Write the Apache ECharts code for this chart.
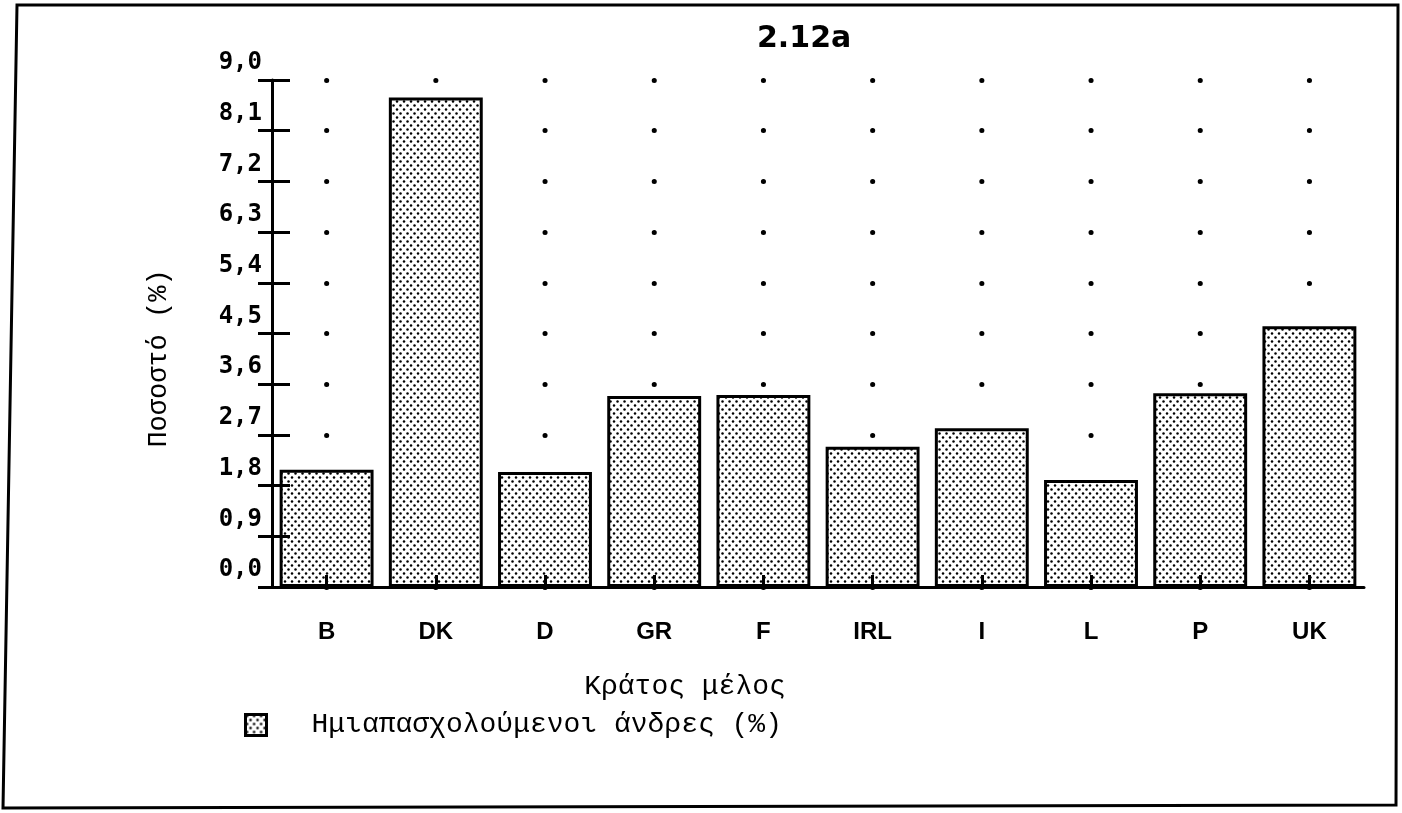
<!DOCTYPE html>
<html>
<head>
<meta charset="utf-8">
<script src="https://cdn.jsdelivr.net/npm/echarts@6/dist/echarts.min.js"></script>
<style>
  html, body { margin: 0; padding: 0; background: #fff; }
  #chart { width: 1402px; height: 813px; }
</style>
</head>
<body>
<div id="chart"></div>
<script>
// Part-time employed men by member state (%)
const chartTitle = '2.12a';
const categories = ['B', 'DK', 'D', 'GR', 'F', 'IRL', 'I', 'L', 'P', 'UK'];
const values = [2.08, 8.69, 2.04, 3.39, 3.41, 2.49, 2.82, 1.90, 3.44, 4.63];
const seriesName = 'Ημιαπασχολούμενοι άνδρες (%)';
const xAxisTitle = 'Κράτος μέλος';
const yAxisTitle = 'Ποσοστό (%)';
const yMin = 0;
const yMax = 9.0;
const yStep = 0.9;

// stippled fill used for the bars
function stipple() {
  const c = document.createElement('canvas');
  c.width = 7; c.height = 8;
  const g = c.getContext('2d');
  g.fillStyle = '#fff';
  g.fillRect(0, 0, 7, 8);
  g.fillStyle = '#000';
  g.beginPath(); g.arc(1.5, 1.5, 1.25, 0, Math.PI * 2); g.fill();
  g.beginPath(); g.arc(5.0, 5.5, 1.25, 0, Math.PI * 2); g.fill();
  return c;
}

const GRID = { left: 272, top: 80, right: 38, bottom: 226 };
const catWidth = (1402 - GRID.left - GRID.right) / categories.length;
const monoFont = 'Liberation Mono';

const chart = echarts.init(document.getElementById('chart'), null, { renderer: 'canvas' });

chart.setOption({
  backgroundColor: '#fff',
  animation: false,
  title: {
    text: chartTitle,
    left: 752,
    top: 19,
    textStyle: { fontFamily: 'DejaVu Sans', fontWeight: 'bold', fontSize: 30, color: '#000' }
  },
  legend: {
    left: 239,
    top: 706,
    icon: 'rect',
    itemWidth: 21,
    itemHeight: 21,
    data: [seriesName],
    itemStyle: { borderWidth: 3, borderColor: '#000' },
    textStyle: {
      fontFamily: monoFont, fontSize: 28, color: '#000',
      padding: [0, 0, 0, 40]
    }
  },
  grid: GRID,
  xAxis: [
    {
      type: 'category',
      data: categories,
      boundaryGap: true,
      name: xAxisTitle,
      nameLocation: 'middle',
      nameGap: 86,
      nameTextStyle: { fontFamily: monoFont, fontSize: 28, color: '#000', padding: [0, 266, 0, 0] },
      axisLine: { lineStyle: { color: '#000', width: 3 } },
      axisTick: { alignWithLabel: true, length: 18, lineStyle: { color: '#000', width: 3 } },
      axisLabel: { margin: 33, fontFamily: 'Liberation Sans', fontWeight: 'bold', fontSize: 24, color: '#000' },
      splitLine: { show: false }
    },
    {
      // inner half of the category ticks, drawn over the bars
      type: 'category',
      data: categories,
      position: 'bottom',
      offset: 0,
      z: 5,
      axisLine: { show: true, onZero: false, lineStyle: { color: '#000', width: 0, opacity: 0 } },
      axisTick: { show: true, inside: true, alignWithLabel: true, length: 12, lineStyle: { color: '#000', width: 3, opacity: 1 } },
      axisLabel: { show: false },
      splitLine: { show: false }
    }
  ],
  yAxis: [
    {
      type: 'value',
      min: yMin,
      max: yMax,
      interval: yStep,
      name: yAxisTitle,
      nameLocation: 'middle',
      nameGap: 100,
      nameRotate: 90,
      nameTextStyle: { fontFamily: monoFont, fontSize: 27, color: '#000', padding: [0, 50, 0, 0] },
      axisLine: { show: true, lineStyle: { color: '#000', width: 3 } },
      axisTick: { show: true, length: 14, lineStyle: { color: '#000', width: 3 } },
      axisLabel: {
        margin: 10,
        verticalAlign: 'bottom',
        padding: [0, 0, 5, 0],
        fontFamily: 'DejaVu Sans Mono', fontWeight: 'bold', fontSize: 24, color: '#000',
        formatter: v => v.toFixed(1).replace('.', ',')
      },
      // dotted grid: one dot per category at each tick level
      splitLine: {
        show: true,
        lineStyle: {
          color: '#000',
          width: 5,
          type: [0.1, catWidth - 0.1],
          dashOffset: catWidth / 2,
          cap: 'round'
        }
      }
    },
    {
      // inner half of the value ticks
      type: 'value',
      min: yMin,
      max: yMax,
      interval: yStep,
      position: 'left',
      z: 5,
      axisLine: { show: false },
      axisTick: { show: true, inside: true, length: 18, lineStyle: { color: '#000', width: 3 } },
      axisLabel: { show: false },
      splitLine: { show: false }
    }
  ],
  series: [
    {
      name: seriesName,
      type: 'bar',
      data: values,
      barWidth: '86%',
      itemStyle: {
        color: { image: stipple(), repeat: 'repeat' },
        borderColor: '#000',
        borderWidth: 3
      }
    }
  ],
  graphic: [
    {
      // outer frame of the figure
      type: 'polygon',
      z: 10,
      shape: { points: [[17, 5], [1398, 5], [1396, 805], [3, 808]] },
      style: { fill: null, stroke: '#000', lineWidth: 3 }
    }
  ]
});
</script>
</body>
</html>
